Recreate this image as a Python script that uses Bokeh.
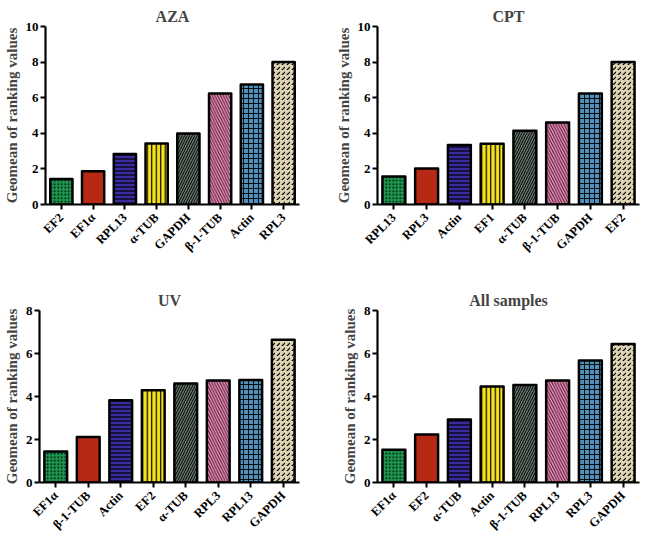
import math
from bokeh.plotting import figure
from bokeh.layouts import column, row
from bokeh.models import ColumnDataSource, Range1d, FactorRange, FixedTicker, CanvasTexture
from bokeh.embed import file_html
from bokeh.resources import INLINE

# ---- data ----
aza_genes = ["EF2", "EF1α", "RPL13", "α-TUB", "GAPDH", "β-1-TUB", "Actin", "RPL3"]
aza_values = [1.43, 1.87, 2.84, 3.42, 3.99, 6.24, 6.74, 8.01]

cpt_genes = ["RPL13", "RPL3", "Actin", "EF1", "α-TUB", "β-1-TUB", "GAPDH", "EF2"]
cpt_values = [1.57, 2.02, 3.34, 3.41, 4.14, 4.60, 6.23, 8.00]

uv_genes = ["EF1α", "β-1-TUB", "Actin", "EF2", "α-TUB", "RPL3", "RPL13", "GAPDH"]
uv_values = [1.44, 2.12, 3.83, 4.29, 4.61, 4.74, 4.77, 6.64]

all_genes = ["EF1α", "EF2", "α-TUB", "Actin", "β-1-TUB", "RPL13", "RPL3", "GAPDH"]
all_values = [1.52, 2.23, 2.93, 4.47, 4.53, 4.75, 5.68, 6.44]

top_ticks = [0, 2, 4, 6, 8, 10]
bottom_ticks = [0, 2, 4, 6, 8]

y_label = "Geomean of ranking values"

# ---- styles (by bar position) ----
fill_colors = ["#1e9650", "#ff3a1e", "#3a2c9c", "#f6e31f", "#66766c", "#ee86b5", "#5290bb", "#ddd3b3"]
hatches = [".", "checker", "-", "|", "/", "\\", "+", ","]
hatch_scales = [3.5, 7, 4, 4.5, 5, 5.5, 5, 5]
hatch_weights = [1.1, 1.0, 1.2, 1.2, 1.0, 0.8, 0.9, 1.2]

checker_js = """
ctx.fillStyle = color;
const h = scale / 2;
const s = h * 0.8;
ctx.fillRect(0, 0, s, s);
ctx.fillRect(h, h, s, s);
"""

FONT = "Liberation Serif"


def make_panel(title, genes, values, ymax, ticks, width, height, mbl, mbr, mbt, mbb):
    p = figure(x_range=FactorRange(*genes), y_range=Range1d(0, ymax),
               width=width, height=height, output_backend="svg",
               toolbar_location=None, title=title,
               min_border_left=mbl, min_border_right=mbr,
               min_border_top=mbt, min_border_bottom=mbb)
    src = ColumnDataSource(dict(x=genes, top=values, fc=fill_colors,
                                hp=hatches, hs=hatch_scales, hw=hatch_weights))
    p.vbar(x="x", top="top", width=0.70, source=src, fill_color="fc",
           hatch_pattern="hp", hatch_scale="hs", hatch_weight="hw",
           hatch_color="black", hatch_extra={"checker": CanvasTexture(code=checker_js)},
           line_color="black", line_width=2.5, line_join="round")
    p.title.text_font = FONT
    p.title.text_font_style = "bold"
    p.title.text_font_size = "16px"
    p.title.align = "center"
    p.title.standoff = 3
    p.outline_line_color = None
    p.xgrid.visible = False
    p.ygrid.visible = False
    for ax in (p.xaxis[0], p.yaxis[0]):
        ax.axis_line_width = 2.2
        ax.axis_line_color = "black"
        ax.major_tick_line_width = 2
        ax.major_tick_line_color = "black"
        ax.major_tick_out = 5
        ax.major_tick_in = 0
        ax.minor_tick_line_color = None
        ax.major_label_text_font = FONT
        ax.major_label_text_font_style = "bold"
        ax.major_label_text_color = "black"
    p.yaxis.ticker = FixedTicker(ticks=ticks)
    p.yaxis.major_label_text_font_size = "13px"
    p.yaxis.major_label_standoff = 2
    p.yaxis.axis_label = y_label
    p.yaxis.axis_label_text_font = FONT
    p.yaxis.axis_label_text_font_style = "bold"
    p.yaxis.axis_label_text_font_size = "15px"
    p.yaxis.axis_label_standoff = 3
    p.xaxis.major_label_orientation = math.pi / 4
    p.xaxis.major_label_text_font_size = "12.5px"
    p.xaxis.major_label_standoff = 6
    return p


p1 = make_panel("AZA", aza_genes, aza_values, 10, top_ticks, 321, 266, 36, 22, 26, 62)
p2 = make_panel("CPT", cpt_genes, cpt_values, 10, top_ticks, 321, 266, 56, 3, 26, 62)
p3 = make_panel("UV", uv_genes, uv_values, 8, bottom_ticks, 321, 278, 36, 22, 44, 62)
p4 = make_panel("All samples", all_genes, all_values, 8, bottom_ticks, 321, 278, 56, 3, 44, 62)

layout = column(row(p1, p2), row(p3, p4))

open("out.html", "w").write(file_html(layout, INLINE))
